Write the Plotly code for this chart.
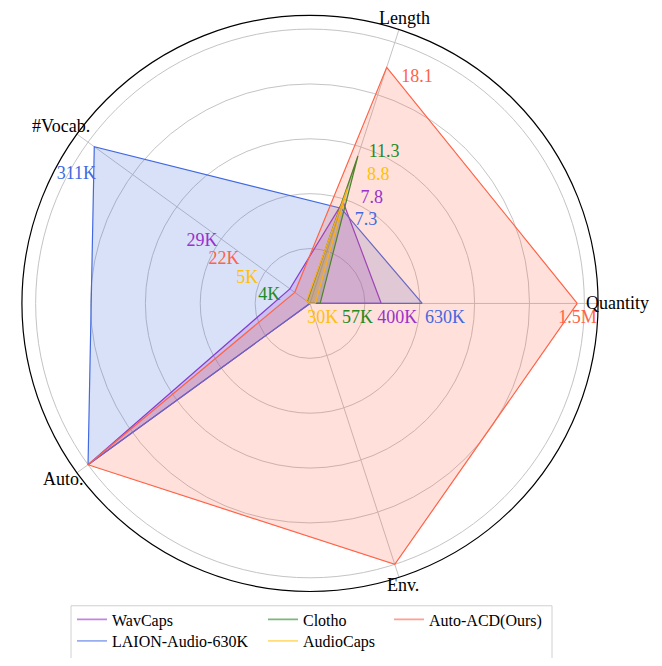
import numpy as np
import plotly.graph_objects as go

# ---------------- data ----------------
datasets = ["WavCaps", "LAION-Audio-630K", "Clotho", "AudioCaps", "Auto-ACD(Ours)"]
axis_names = ["Quantity", "Length", "#Vocab.", "Auto.", "Env."]
axis_angles = [0, 72, 144, 216, 288]

quantity = [400e3, 630e3, 57e3, 30e3, 1.5e6]
length = [7.8, 7.3, 11.3, 8.8, 18.1]
vocab = [29e3, 311e3, 4e3, 5e3, 22e3]
auto = [1, 1, 0, 0, 1]
env = [0, 0, 0, 0, 1]

# normalisation maxima per axis
axis_max = [1.54e6, 20.0, 320e3, 1.0, 1.0]

quantity_labels = ["400K", "630K", "57K", "30K", "1.5M"]
length_labels = ["7.8", "7.3", "11.3", "8.8", "18.1"]
vocab_labels = ["29K", "311K", "4K", "5K", "22K"]

# ---------------- styles ----------------
colors = ["#9932CC", "#4169E1", "#228B22", "#FFC107", "#FF6347"]
fills = ["rgba(153,50,204,0.2)", "rgba(65,105,225,0.2)", "rgba(34,139,34,0.2)",
         "rgba(255,193,7,0.2)", "rgba(255,99,71,0.2)"]

# label anchor positions (cartesian, radial units)
q_label_xy = [(0.3184, -0.0537), (0.4919, -0.0537), (0.1735, -0.0537), (0.0465, -0.0537), (0.975, -0.0537)]
l_label_xy = [(0.2254, 0.3828), (0.2039, 0.3005), (0.270, 0.549), (0.2487, 0.4651), (0.390, 0.8229)]
v_label_xy = [(-0.3936, 0.2254), (-0.8515, 0.4705), (-0.1485, 0.0286), (-0.2290, 0.0912), (-0.3131, 0.1610)]
axis_label_r = [1.1, 1.093, 1.1, 1.09, 1.08]

FONT = "Liberation Serif"

# page = figure + default 8px body margin on each side
MARGIN = 8
W, H = 662 - 2 * MARGIN, 666 - 2 * MARGIN
RMAX = 1.05
cx, cy, R = 310 - MARGIN, 309 - MARGIN, 293.5   # polar centre / radius in figure px
U = R / RMAX

fig = go.Figure()

for i, name in enumerate(datasets):
    vals = [quantity[i], length[i], vocab[i], auto[i], env[i]]
    r = [v / m for v, m in zip(vals, axis_max)]
    r = r + [r[0]]
    th = axis_angles + [axis_angles[0]]
    fig.add_trace(go.Scatterpolar(
        r=r, theta=th, mode="lines", fill="toself", fillcolor=fills[i],
        line=dict(color=colors[i], width=1.2), name=name, showlegend=False,
        hoverinfo="skip"))

# legend-only line entries, one legend per cell of a 3-column grid
legend_cells = [(77, 631), (77, 653), (268, 631), (268, 653), (394, 631)]  # page px: line start, row centre
legend_layouts = {}
for i, name in enumerate(datasets):
    lid = "legend" if i == 0 else f"legend{i + 1}"
    fig.add_trace(go.Scatterpolar(
        r=[None], theta=[None], mode="lines", name=name,
        line=dict(color=colors[i], width=1.6), opacity=0.6,
        legend=lid, showlegend=True))
    lx, ly = legend_cells[i]
    legend_layouts[lid] = dict(
        x=(lx - MARGIN - 5) / W, y=1 - (ly - MARGIN) / H, xanchor="left", yanchor="middle",
        font=dict(family=FONT, size=16, color="black"), bgcolor="rgba(0,0,0,0)",
        borderwidth=0, orientation="v", itemwidth=30)

# value labels
def to_polar(xy):
    xy = np.array(xy)
    rr = np.hypot(xy[:, 0], xy[:, 1])
    tt = np.degrees(np.arctan2(xy[:, 1], xy[:, 0])) % 360
    return rr, tt

for labels, pos in [(quantity_labels, q_label_xy), (length_labels, l_label_xy), (vocab_labels, v_label_xy)]:
    rr, tt = to_polar(pos)
    fig.add_trace(go.Scatterpolar(
        r=rr, theta=tt, mode="text", text=labels, textposition="middle center",
        textfont=dict(family=FONT, size=18, color=colors), cliponaxis=False,
        showlegend=False, hoverinfo="skip"))

# axis name labels (placed just outside the outer ring)
annotations = []
for name, ang, rl in zip(axis_names, axis_angles, axis_label_r):
    px = cx + rl * U * np.cos(np.radians(ang))
    py = cy - rl * U * np.sin(np.radians(ang))
    annotations.append(dict(x=px / W, y=1 - py / H, xref="paper", yref="paper", text=name,
                            showarrow=False, xanchor="center", yanchor="middle",
                            font=dict(family=FONT, size=18, color="black")))

fig.update_layout(
    width=W, height=H, margin=dict(l=0, r=0, t=0, b=0),
    paper_bgcolor="white", plot_bgcolor="white",
    font=dict(family=FONT, size=16, color="black"),
    polar=dict(
        domain=dict(x=[(cx - R) / W, (cx + R) / W], y=[1 - (cy + R) / H, 1 - (cy - R) / H]),
        bgcolor="white",
        radialaxis=dict(range=[0, RMAX], tickvals=[0.2, 0.4, 0.6, 0.8, 1.0], showticklabels=False,
                        ticks="", showline=False, gridcolor="#c4c4c4", gridwidth=1),
        angularaxis=dict(type="linear", thetaunit="degrees", tickmode="array", tickvals=axis_angles,
                         showticklabels=False, ticks="", direction="counterclockwise", rotation=0,
                         gridcolor="#c4c4c4", gridwidth=1, showline=True, linecolor="black",
                         linewidth=1.2),
    ),
    annotations=annotations,
    shapes=[dict(type="rect", xref="paper", yref="paper", x0=(71 - MARGIN) / W, x1=(552 - MARGIN) / W,
                 y0=-0.1, y1=1 - (617 - MARGIN) / H, line=dict(color="#d0d0d0", width=1),
                 fillcolor="rgba(0,0,0,0)", layer="above")],
    showlegend=True,
    **legend_layouts,
)

fig.write_html("out.html")
